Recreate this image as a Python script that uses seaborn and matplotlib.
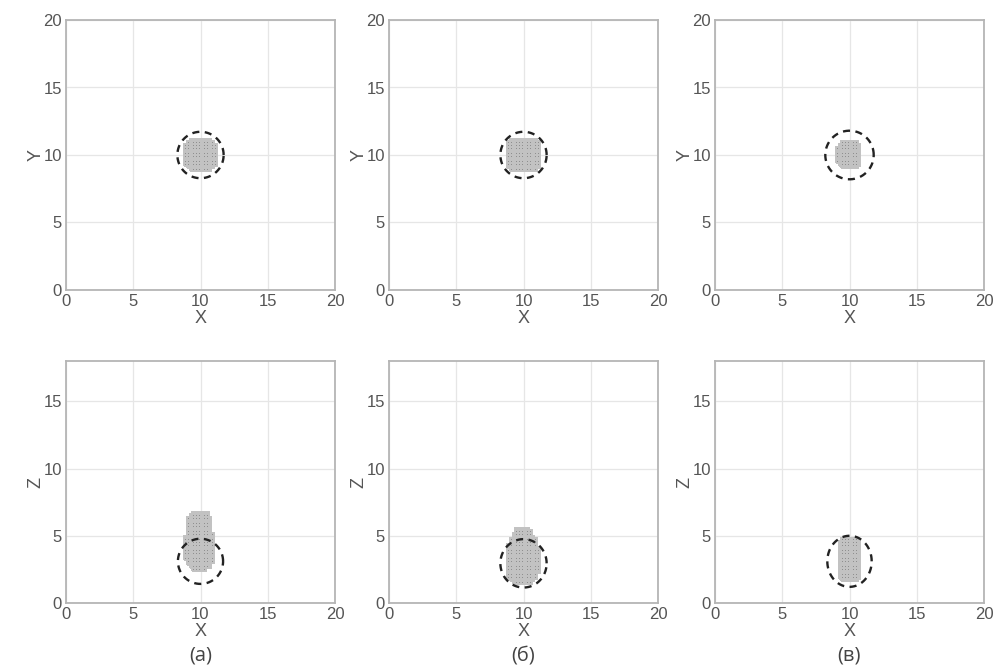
import numpy as np
import pandas as pd
import matplotlib
matplotlib.use("Agg")
import matplotlib.pyplot as plt
import seaborn as sns
from matplotlib.path import Path
from matplotlib.colors import ListedColormap

sns.set_style("white")
plt.rcParams['font.family'] = ['Liberation Sans', 'DejaVu Sans']

# ---------------- data ----------------
captions = ["(a)", "(б)", "(в)"]
x_ticks = [0, 5, 10, 15, 20]
y_ticks_top = [0, 5, 10, 15, 20]
z_ticks = [0, 5, 10, 15]
x_lim = [0, 20]
y_lim_top = [0, 20]
z_lim_bottom = [0, 18]

# dashed circles (true object)
circle_cx = [10.0, 10.0, 10.0]
circle_cy_top = [10.0, 10.0, 10.0]
circle_r_top = [1.72, 1.72, 1.8]
circle_cz_bottom = [3.1, 2.95, 3.1]
circle_rx_bottom = [1.68, 1.72, 1.65]
circle_rz_bottom = [1.68, 1.8, 1.9]

# reconstructed regions (outline vertices, x / y or x / z)
recon_top_a = [(9.4, 11.2), (10.6, 11.2), (11.0, 10.95), (11.2, 10.5), (11.2, 9.5),
               (11.0, 9.05), (10.6, 8.8), (9.4, 8.8), (9.0, 9.05), (8.8, 9.5),
               (8.8, 10.5), (9.0, 10.95)]
recon_top_b = [(9.05, 11.25), (10.95, 11.25), (11.25, 10.95), (11.25, 9.05),
               (10.95, 8.75), (9.05, 8.75), (8.75, 9.05), (8.75, 10.95)]
recon_top_c = [(9.45, 10.95), (10.55, 10.95), (10.9, 10.6), (10.9, 9.4),
               (10.55, 9.05), (9.45, 9.05), (9.1, 9.4), (9.1, 10.6)]
recon_bot_a = [(9.45, 6.8), (10.45, 6.8), (10.8, 6.35), (10.85, 5.3), (11.0, 5.0),
               (11.05, 3.3), (10.7, 2.6), (10.4, 2.45), (9.5, 2.45), (9.2, 2.6),
               (8.85, 3.3), (8.9, 5.0), (9.05, 5.3), (9.1, 6.35)]
recon_bot_b = [(9.5, 5.55), (10.4, 5.55), (10.65, 5.15), (10.95, 4.7), (11.2, 4.0),
               (11.25, 2.6), (11.0, 1.8), (10.6, 1.4), (9.3, 1.4), (8.9, 1.8),
               (8.7, 2.6), (8.75, 4.0), (9.0, 4.7), (9.3, 5.15)]
recon_bot_c = [(9.5, 4.8), (10.5, 4.8), (10.8, 4.4), (10.85, 2.1), (10.6, 1.6),
               (9.4, 1.6), (9.15, 2.1), (9.15, 4.4)]
cell_size = 0.2

# ---------------- styling ----------------
fill_rgba = (0.56, 0.56, 0.56, 1.0)
mesh_rgba = (0.76, 0.76, 0.76, 1.0)
spine_c = "#b5b5b5"
grid_c = "#e6e6e6"
text_c = "#555555"

W, H = 1001, 669
fig = plt.figure(figsize=(W / 100, H / 100), dpi=100)
fig.patch.set_facecolor("white")

lefts = [66, 389, 715]
axw = 269
top_row = (20, 290)
bot_row = (361, 603)


def add_ax(left, top, bottom):
    return fig.add_axes([left / W, (H - bottom) / H, axw / W, (bottom - top) / H])


def draw_cells(ax, poly, ylim):
    xe = np.arange(x_lim[0], x_lim[1] + 1e-9, cell_size)
    ye = np.arange(ylim[0], ylim[1] + 1e-9, cell_size)
    xc = (xe[:-1] + xe[1:]) / 2
    yc = (ye[:-1] + ye[1:]) / 2
    XX, YY = np.meshgrid(xc, yc)
    inside = Path(poly).contains_points(np.column_stack([XX.ravel(), YY.ravel()]))
    C = inside.reshape(XX.shape).astype(float)
    mesh = ax.pcolormesh(xe, ye, C, cmap=ListedColormap([(1, 1, 1, 0), fill_rgba]),
                         vmin=0, vmax=1, shading="flat", zorder=2)
    ec = np.zeros((inside.size, 4))
    ec[inside] = mesh_rgba
    mesh.set_edgecolor(ec)
    mesh.set_linewidth(0.22)


def draw_circle(ax, cx, cy, rx, ry):
    t = np.linspace(0, 2 * np.pi, 200)
    df = pd.DataFrame({"x": cx + rx * np.cos(t), "y": cy + ry * np.sin(t)})
    sns.lineplot(data=df, x="x", y="y", sort=False, estimator=None, ax=ax,
                 color="#222222", lw=1.7, linestyle=(0, (3.0, 2.3)), zorder=3)


def style_ax(ax, ylim, yticks, ylabel):
    ax.set_xlim(*x_lim)
    ax.set_ylim(*ylim)
    ax.set_xticks(x_ticks)
    ax.set_yticks(yticks)
    ax.grid(True, color=grid_c, lw=0.9)
    ax.set_axisbelow(True)
    for s in ax.spines.values():
        s.set_color(spine_c)
        s.set_linewidth(1.3)
    ax.tick_params(direction="in", length=3, color=spine_c, labelcolor=text_c,
                   labelsize=12, pad=3)
    ax.set_xlabel("X", fontsize=13, color=text_c, labelpad=0.5)
    ax.set_ylabel(ylabel, fontsize=13, color=text_c, labelpad=-1)


tops = [recon_top_a, recon_top_b, recon_top_c]
bots = [recon_bot_a, recon_bot_b, recon_bot_c]

for i in range(3):
    ax = add_ax(lefts[i], *top_row)
    draw_cells(ax, tops[i], y_lim_top)
    draw_circle(ax, circle_cx[i], circle_cy_top[i], circle_r_top[i], circle_r_top[i])
    style_ax(ax, y_lim_top, y_ticks_top, "Y")

    ax2 = add_ax(lefts[i], *bot_row)
    draw_cells(ax2, bots[i], z_lim_bottom)
    draw_circle(ax2, circle_cx[i], circle_cz_bottom[i], circle_rx_bottom[i], circle_rz_bottom[i])
    style_ax(ax2, z_lim_bottom, z_ticks, "Z")

    fig.text((lefts[i] + axw / 2) / W, 1 - 656 / H, captions[i], ha="center", va="center",
             fontsize=14.5, color="#444444", family=["Open Sans", "DejaVu Sans"])

fig.savefig("out.png", dpi=100, facecolor="white")
